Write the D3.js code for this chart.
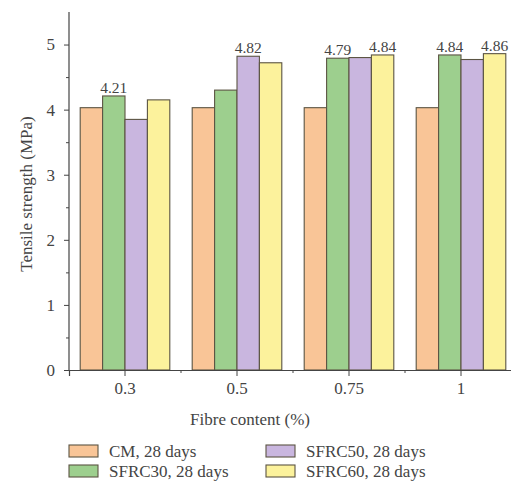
<!DOCTYPE html>
<html><head><meta charset="utf-8">
<script src="https://cdn.jsdelivr.net/npm/d3@7"></script>
</head><body style="margin:0;padding:0;background:#fff">
<svg id="c" width="511" height="481" style="display:block"></svg>
<script>
const categories = ["0.3", "0.5", "0.75", "1"];
const seriesNames = ["CM, 28 days", "SFRC30, 28 days", "SFRC50, 28 days", "SFRC60, 28 days"];
const cmValues = [4.03, 4.03, 4.03, 4.03];
const sfrc30Values = [4.21, 4.30, 4.79, 4.84];
const sfrc50Values = [3.85, 4.82, 4.80, 4.77];
const sfrc60Values = [4.15, 4.72, 4.84, 4.86];
const yTicks = [0, 1, 2, 3, 4, 5];
const yMinorTicks = [0.5, 1.5, 2.5, 3.5, 4.5];
// which bars get a value label: [category index, series index]
const labelled = [[0, 1], [1, 2], [2, 1], [2, 3], [3, 1], [3, 3]];
const colors = ["#F9C597", "#9DCF8E", "#C9B6DF", "#FCF29C"];
const serif = "'Liberation Serif', monospace";

const seriesValues = [cmValues, sfrc30Values, sfrc50Values, sfrc60Values];
const svg = d3.select("#c");
const x0 = d3.scaleBand().domain(categories).range([69, 517]).padding(0);
const x1 = d3.scaleBand().domain(d3.range(4)).range([0, x0.bandwidth()]).paddingInner(0).paddingOuter(0.5);
const y = d3.scaleLinear().domain([0, 5.5]).range([370, 12]);

const groups = svg.append("g").selectAll("g").data(categories).join("g")
  .attr("transform", d => `translate(${x0(d)},0)`);
groups.selectAll("rect").data((d, i) => seriesValues.map((s, k) => ({k, v: s[i]})))
  .join("rect")
  .attr("x", d => x1(d.k)).attr("width", x1.bandwidth())
  .attr("y", d => y(d.v)).attr("height", d => y(0) - y(d.v))
  .attr("fill", d => colors[d.k]).attr("stroke", "#5b5443").attr("stroke-width", 1.1);

svg.append("g").selectAll("text").data(labelled).join("text")
  .attr("x", d => x0(categories[d[0]]) + x1(d[1]) + x1.bandwidth() / 2)
  .attr("y", d => y(seriesValues[d[1]][d[0]]) - 3)
  .attr("text-anchor", "middle").attr("font-size", 15.5).attr("fill", "#444").style("font-family", serif)
  .text(d => seriesValues[d[1]][d[0]].toFixed(2));

// y axis
const yAxis = svg.append("g").attr("transform", "translate(69,0)")
  .call(d3.axisLeft(y).tickValues(yTicks).tickFormat(d3.format("d")).tickSize(5).tickPadding(9));
svg.append("g").attr("transform", "translate(69,0)")
  .call(d3.axisLeft(y).tickValues(yMinorTicks).tickFormat("").tickSize(3))
  .select(".domain").remove();
yAxis.select(".domain").attr("d", `M0,${y(5.5)}V${y(0)}`);
// x axis
const xAxis = svg.append("g").attr("transform", "translate(0,370)")
  .call(d3.axisBottom(x0).tickSize(6).tickPadding(6));
const bounds = categories.slice(1).map(c => x0(c));
svg.append("g").selectAll("line").data(bounds).join("line")
  .attr("x1", d => d).attr("x2", d => d).attr("y1", 370).attr("y2", 373)
  .attr("stroke", "#444");
svg.selectAll(".domain").attr("stroke", "#444").attr("stroke-width", 1.2);
svg.selectAll(".tick line").attr("stroke", "#444");
svg.selectAll(".tick text").attr("font-size", 17).attr("fill", "#444").style("font-family", serif);

svg.append("text").attr("x", 250).attr("y", 425).attr("text-anchor", "middle").style("font-family", serif)
  .attr("font-size", 17).attr("fill", "#444").text("Fibre content (%)");
svg.append("text").attr("transform", "translate(32,194) rotate(-90)").attr("text-anchor", "middle").style("font-family", serif)
  .attr("font-size", 17).attr("fill", "#444").text("Tensile strength (MPa)");

// legend
const leg = svg.append("g").selectAll("g").data(seriesNames).join("g")
  .attr("transform", (d, i) => `translate(${i < 2 ? 69 : 266},${445 + (i % 2) * 20})`);
leg.append("rect").attr("width", 29).attr("height", 12)
  .attr("fill", (d, i) => colors[i]).attr("stroke", "#5b5443").attr("stroke-width", 1.1);
leg.append("text").attr("x", 40).attr("y", 11.5).attr("font-size", 17).style("font-family", serif)
  .attr("fill", "#444").text(d => d);
</script></body></html>
